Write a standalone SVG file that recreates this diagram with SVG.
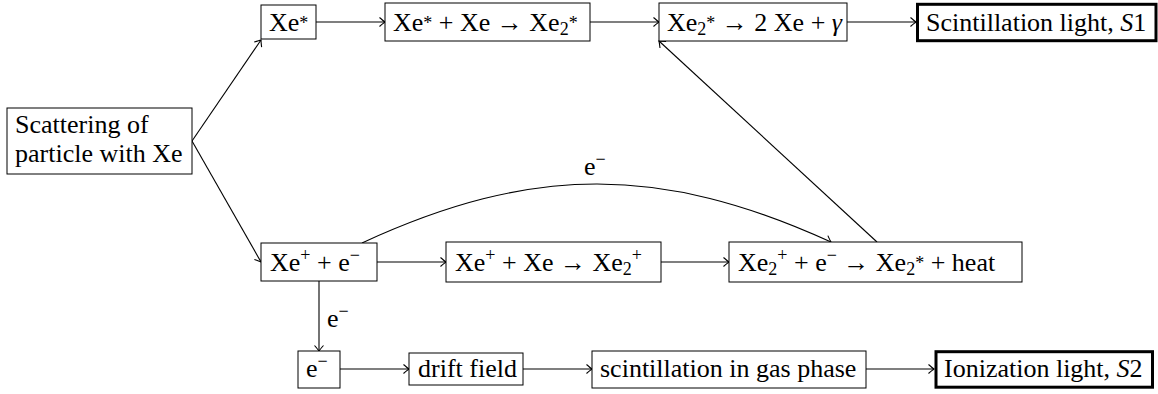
<svg xmlns="http://www.w3.org/2000/svg" width="1158" height="394" viewBox="0 0 1158 394">
<defs>
<marker id="ar" markerUnits="userSpaceOnUse" viewBox="-8 -6 10 12" refX="0" refY="0" markerWidth="10" markerHeight="12" orient="auto">
<path d="M-5.5,-4.5 Q-1.5,-1 0,0 Q-1.5,1 -5.5,4.5" fill="none" stroke="#000" stroke-width="1.1"/>
</marker>
</defs>
<rect width="1158" height="394" fill="#fff"/>
<g id="connectors" fill="none" stroke="#000" stroke-width="1.1" marker-end="url(#ar)">
<path d="M192,141 L261,40"/>
<path d="M192,141 L261,262"/>
<path d="M316,22 L385,22"/>
<path d="M590,22 L659,22"/>
<path d="M847,22 L916,22"/>
<path d="M377,262 L446,262"/>
<path d="M661,262 L729,262"/>
<path d="M362,243 C532,164.5 661,164.5 831,242"/>
<path d="M877,242 L659,41"/>
<path d="M319,281 L319,351"/>
<path d="M340,369 L409,369"/>
<path d="M523,369 L592,369"/>
<path d="M866,369 L934,369"/>
</g>
<g id="labels" font-family="Liberation Serif, Times New Roman, serif" font-size="26">
<g id="connector-labels">
<text x="584" y="175">e<tspan font-size="18" dy="-10">−</tspan></text>
<text x="327" y="327">e<tspan font-size="18" dy="-10">−</tspan></text>
</g>
<g id="scatter">
<rect x="7" y="108" width="185" height="66" fill="#fff" stroke="#000"/>
<text x="15" y="133">Scattering of</text>
<text x="15" y="162">particle with Xe</text>
</g>
<g id="xe-star">
<rect x="261" y="5" width="55" height="34" fill="#fff" stroke="#000"/>
<text x="269" y="31">Xe<tspan font-size="18" dy="-2">*</tspan></text>
</g>
<g id="excimer-formation">
<rect x="385" y="3" width="205" height="38" fill="#fff" stroke="#000"/>
<text x="393" y="31">Xe<tspan font-size="18" dy="-2">*</tspan><tspan dy="2"> + Xe → Xe</tspan><tspan font-size="18" dy="4">2</tspan><tspan font-size="18" dy="-6">*</tspan></text>
</g>
<g id="excimer-decay">
<rect x="659" y="3" width="188" height="38" fill="#fff" stroke="#000"/>
<text x="667" y="31">Xe<tspan font-size="18" dy="4">2</tspan><tspan font-size="18" dy="-6">*</tspan><tspan dy="2"> → 2 Xe + </tspan><tspan font-style="italic">γ</tspan></text>
</g>
<g id="s1">
<rect x="917.5" y="4.3" width="238.5" height="36.4" fill="#fff" stroke="#000" stroke-width="3"/>
<text x="926" y="31">Scintillation light, <tspan font-style="italic">S</tspan>1</text>
</g>
<g id="ionization">
<rect x="261" y="243" width="116" height="38" fill="#fff" stroke="#000"/>
<text x="270" y="271">Xe<tspan font-size="18" dy="-10">+</tspan><tspan dy="10"> + e</tspan><tspan font-size="18" dy="-10">−</tspan></text>
</g>
<g id="molecular-ion">
<rect x="446" y="242" width="215" height="40" fill="#fff" stroke="#000"/>
<text x="455" y="271">Xe<tspan font-size="18" dy="-10">+</tspan><tspan dy="10"> + Xe → Xe</tspan><tspan font-size="18" dy="4">2</tspan><tspan font-size="18" dy="-14">+</tspan></text>
</g>
<g id="recombination">
<rect x="729" y="242" width="293" height="40" fill="#fff" stroke="#000"/>
<text x="738" y="271">Xe<tspan font-size="18" dy="4">2</tspan><tspan font-size="18" dy="-14">+</tspan><tspan dy="10"> + e</tspan><tspan font-size="18" dy="-10">−</tspan><tspan dy="10"> → Xe</tspan><tspan font-size="18" dy="4">2</tspan><tspan font-size="18" dy="-6">*</tspan><tspan dy="2"> + heat</tspan></text>
</g>
<g id="electron">
<rect x="298" y="351" width="42" height="37" fill="#fff" stroke="#000"/>
<text x="306" y="377">e<tspan font-size="18" dy="-10">−</tspan></text>
</g>
<g id="drift">
<rect x="409" y="353" width="114" height="32" fill="#fff" stroke="#000"/>
<text x="418" y="377">drift field</text>
</g>
<g id="gas-scint">
<rect x="592" y="351" width="274" height="37" fill="#fff" stroke="#000"/>
<text x="600" y="377">scintillation in gas phase</text>
</g>
<g id="s2">
<rect x="936" y="351.7" width="216.5" height="35.5" fill="#fff" stroke="#000" stroke-width="3"/>
<text x="944" y="377">Ionization light, <tspan font-style="italic">S</tspan>2</text>
</g>
</g>
</svg>
